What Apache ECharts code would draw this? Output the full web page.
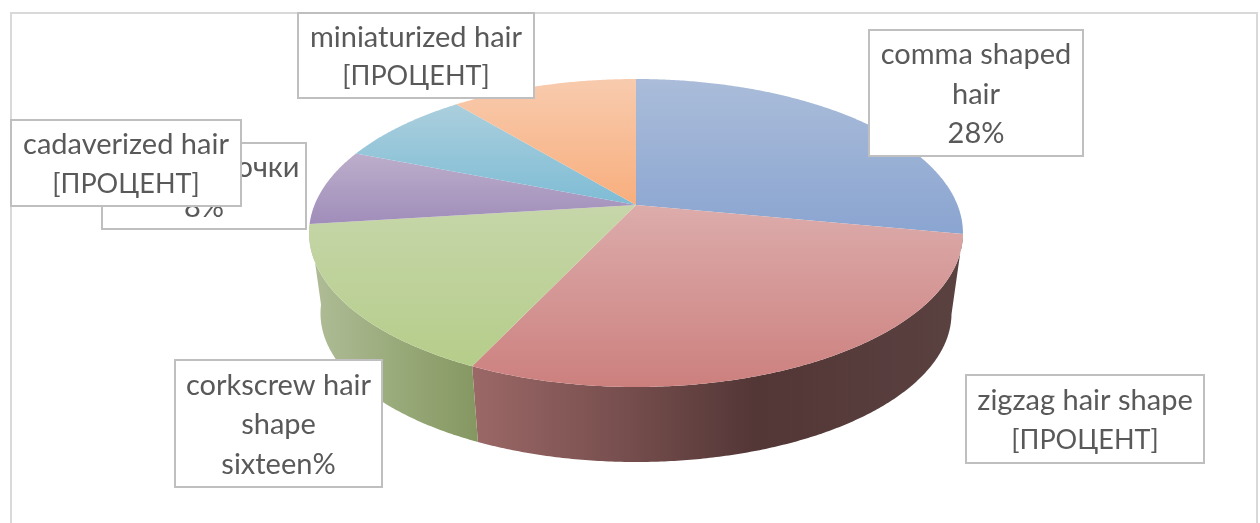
<!DOCTYPE html>
<html>
<head>
<meta charset="utf-8">
<style>
  html, body { margin: 0; padding: 0; background: #fff; }
  #chart { width: 1260px; height: 523px; }
</style>
<script src="https://cdn.jsdelivr.net/npm/echarts@6/dist/echarts.min.js"></script>
</head>
<body>
<div id="chart"></div>
<script>
// slices, clockwise from 12 o'clock
const categories = ['comma shaped hair', 'zigzag hair shape', 'corkscrew hair shape', 'точки', 'cadaverized hair', 'miniaturized hair'];
const shares = [28, 29, 16, 8, 8, 11];

// label text, line by line
const labelLines = [
  ['comma shaped', 'hair', '28%'],
  ['zigzag hair shape', '[ПРОЦЕНТ]'],
  ['corkscrew hair', 'shape', 'sixteen%'],
  ['очки', '8%'],
  ['cadaverized hair', '[ПРОЦЕНТ]'],
  ['miniaturized hair', '[ПРОЦЕНТ]']
];

// styles
const topColors = [
  ['#aabcd9', '#8aa5d1'],
  ['#dcacab', '#cc807e'],
  ['#c6d6a9', '#b5cd8a'],
  ['#bcaecb', '#a08dba'],
  ['#abcfdd', '#7ebcd5'],
  ['#f8cbae', '#f8ae7d']
];
const sideStops = [
  [[0, '#7f93b5'], [1, '#7f93b5']],
  [[0, '#9b6867'], [0.28, '#7a5150'], [0.58, '#533636'], [1, '#5a4241']],
  [[0, '#b0bd98'], [0.5, '#9aab7b'], [1, '#859761']],
  [[0, '#8b7ba0'], [1, '#8b7ba0']],
  [[0, '#6fa3b8'], [1, '#6fa3b8']],
  [[0, '#d69a70'], [1, '#d69a70']]
];

// label boxes: x, y, width, height, order matches labelLines
const boxes = [
  [869, 30, 214, 126],
  [966, 375, 238, 88],
  [175, 360, 207, 127],
  [102, 143, 204, 86],
  [11, 120, 230, 86],
  [298, 13, 236, 85]
];
// the fourth label sits under the fifth, only the end of its first line shows
const lineCenterX = { '3,0': 268 };
const drawOrder = [3, 4, 0, 1, 2, 5];

// perspective of the pie
const cx = 636, cy = 205;      // apex on the top face
const ax = 321.5, ay = 148.9;  // radii before the perspective divide
const persp = 0.1818;
const shrink = 0.965;          // bottom rim is a bit smaller
const dropY = 2530;            // vanishing point of the vertical edges
const visibleFrom = 100.5, visibleTo = 263;

function rimTop(deg) {
  const t = deg * Math.PI / 180;
  const x = Math.sin(t), y = -Math.cos(t);
  const w = 1 - persp * y;
  return [cx + ax * x / w, cy + ay * y / w];
}
function rimBottom(deg) {
  const p = rimTop(deg);
  return [cx + (p[0] - cx) * shrink, p[1] * shrink + dropY * (1 - shrink)];
}
function arc(fn, from, to) {
  const pts = [];
  const n = Math.max(2, Math.ceil(Math.abs(to - from) * 2));
  for (let i = 0; i <= n; i++) pts.push(fn(from + (to - from) * i / n));
  return pts;
}

const total = shares.reduce((a, b) => a + b, 0);
let running = 0;
const sliceData = shares.map((v, i) => {
  const row = { name: categories[i], value: [running, v, i] };
  running += v;
  return row;
});

function renderTop(params, api) {
  const from = api.value(0) / total * 360;
  const to = from + api.value(1) / total * 360;
  const c = topColors[api.value(2)];
  return {
    type: 'polygon',
    shape: { points: [[cx, cy]].concat(arc(rimTop, from, to)) },
    style: { fill: new echarts.graphic.LinearGradient(0, 0, 0, 1, [{ offset: 0, color: c[0] }, { offset: 1, color: c[1] }]) }
  };
}

function renderSide(params, api) {
  const from = Math.max(api.value(0) / total * 360, visibleFrom);
  const to = Math.min((api.value(0) + api.value(1)) / total * 360, visibleTo);
  if (to - from < 1) return null;
  const stops = sideStops[api.value(2)].map(s => ({ offset: s[0], color: s[1] }));
  return {
    type: 'polygon',
    shape: { points: arc(rimTop, from, to).concat(arc(rimBottom, to, from)) },
    style: { fill: new echarts.graphic.LinearGradient(0, 0, 1, 0, stops) }
  };
}

const labelElements = [];
drawOrder.forEach((i, order) => {
  const b = boxes[i];
  labelElements.push({
    type: 'rect',
    z: 10 + order * 2,
    shape: { x: b[0], y: b[1], width: b[2], height: b[3] },
    style: { fill: '#fff', stroke: '#bfbfbf', lineWidth: 2 }
  });
  const lines = labelLines[i];
  lines.forEach((text, j) => {
    const key = i + ',' + j;
    const size = text === '[ПРОЦЕНТ]' ? 27 : 29;
    labelElements.push({
      type: 'text',
      z: 11 + order * 2,
      style: {
        text: text,
        x: lineCenterX[key] !== undefined ? lineCenterX[key] : b[0] + b[2] / 2,
        y: b[1] + b[3] / 2 + 1.5 + (j - (lines.length - 1) / 2) * 39.5,
        align: 'center',
        verticalAlign: 'middle',
        fill: '#595959',
        font: size + 'px Lato, "Noto Sans", sans-serif'
      }
    });
  });
});

const chart = echarts.init(document.getElementById('chart'), null, { renderer: 'canvas' });
chart.setOption({
  backgroundColor: '#ffffff',
  animation: false,
  graphic: {
    elements: [{
      type: 'rect',
      z: 0,
      shape: { x: 11, y: 13, width: 1246, height: 530 },
      style: { fill: '#fff', stroke: '#d9d9d9', lineWidth: 2 }
    }].concat(labelElements)
  },
  series: [
    { type: 'custom', coordinateSystem: 'none', z: 2, silent: true, renderItem: renderSide, data: sliceData },
    { type: 'custom', coordinateSystem: 'none', z: 3, silent: true, renderItem: renderTop, data: sliceData }
  ]
});
</script>
</body>
</html>
